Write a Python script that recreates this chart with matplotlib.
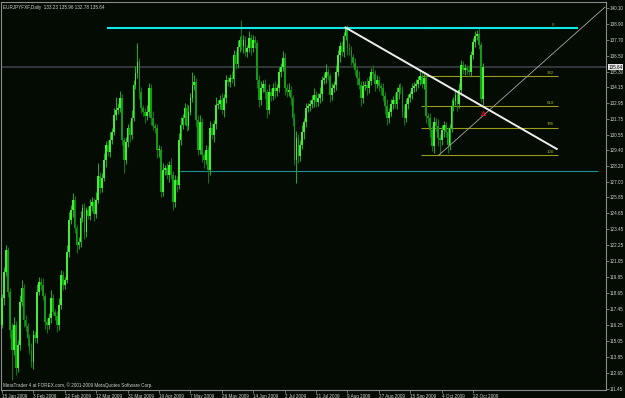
import numpy as np
import matplotlib
matplotlib.use("Agg")
import matplotlib.pyplot as plt
from matplotlib.transforms import blended_transform_factory

# EURJPY daily closes, 15 Jan 2009 .. 28 Oct 2009
first_open = 116.26
closes = [
    118.29, 120.25, 121.90, 118.74, 115.88, 114.38, 116.26, 113.03, 114.76, 117.99,
    119.04, 116.64, 116.18, 115.28, 114.38, 113.48, 115.51, 115.28, 118.74, 119.49,
    119.27, 118.44, 116.49, 116.26, 116.79, 118.29, 117.24, 116.94, 116.26, 117.76,
    120.02, 119.27, 119.64, 121.75, 124.16, 124.91, 125.66, 123.55, 122.28, 122.50,
    124.31, 125.06, 123.25, 124.91, 124.46, 125.21, 125.51, 124.61, 125.66, 127.46,
    126.56, 127.31, 128.67, 129.80, 129.27, 130.17, 130.77, 132.05, 132.43, 132.58,
    133.33, 130.17, 128.67, 130.02, 131.07, 130.55, 131.83, 134.31, 135.21, 136.04,
    133.78, 132.58, 132.28, 131.98, 132.28, 134.08, 131.83, 131.22, 131.07, 129.42,
    129.42, 126.26, 127.92, 128.07, 127.54, 128.29, 127.54, 125.51, 127.16, 126.79,
    130.17, 131.30, 131.83, 132.58, 131.22, 132.28, 133.33, 134.31, 134.53, 131.68,
    129.42, 131.53, 129.04, 128.67, 129.42, 127.92, 131.07, 130.55, 131.38, 132.80,
    132.88, 133.18, 132.43, 133.33, 134.68, 134.53, 134.83, 134.76, 136.56, 135.89,
    137.17, 137.69, 137.24, 137.69, 136.79, 137.09, 137.84, 137.09, 137.69, 137.47,
    134.68, 133.18, 134.08, 134.38, 133.78, 132.43, 133.78, 133.48, 134.08, 133.86,
    134.08, 135.29, 135.66, 136.34, 134.08, 133.78, 133.93, 133.33, 131.83, 128.67,
    130.32, 128.97, 129.80, 130.77, 131.53, 132.58, 132.73, 132.88, 133.18, 133.56,
    133.03, 133.33, 133.63, 134.68, 134.83, 135.29, 134.98, 133.56, 134.08, 134.31,
    135.29, 136.56, 137.24, 136.79, 137.99, 138.52, 137.09, 136.94, 136.41, 135.96,
    135.44, 134.83, 134.31, 133.33, 134.23, 134.31, 134.08, 134.61, 135.29, 135.14,
    134.38, 134.68, 134.23, 134.08, 133.48, 132.73, 131.83, 132.28, 132.88, 133.18,
    132.88, 133.78, 134.08, 133.93, 132.28, 131.83, 132.88, 133.33, 133.63, 134.08,
    134.23, 134.38, 134.68, 134.98, 134.38, 134.83, 131.98, 131.83, 130.92, 129.72,
    131.53, 131.22, 130.32, 130.17, 130.92, 131.30, 130.77, 129.80, 131.07, 132.73,
    133.10, 133.56, 132.88, 133.93, 135.81, 135.44, 135.59, 135.44, 135.29, 136.56,
    137.54, 137.99, 138.14, 137.32, 133.23, 135.64,
]
upper_wick = [
    0.3, 0.4, 0.4, 0.2, 0.3, 0.5, 0.6, 0.3, 0.4, 0.5,
    0.6, 0.3, 0.4, 0.2, 0.3, 0.5, 0.4, 0.3, 0.6, 0.4,
    0.3, 0.5, 0.2, 0.3, 0.4, 0.6, 0.3, 0.2, 0.4, 0.5,
    0.4, 0.3, 0.2, 0.5, 0.6, 0.4, 0.5, 0.3, 0.2, 0.4,
    0.5, 0.3, 0.4, 0.2, 0.3, 0.5, 0.4, 0.3, 0.6, 1.0,
    0.3, 0.4, 0.5, 0.3, 0.4, 0.6, 0.3, 0.5, 1.0, 0.4,
    0.5, 0.3, 0.2, 0.4, 0.3, 0.5, 0.6, 0.4, 0.5, 1.4,
    0.3, 0.4, 0.2, 0.3, 0.5, 0.4, 0.3, 0.5, 0.2, 0.3,
    0.4, 0.3, 0.5, 0.2, 0.4, 0.3, 0.5, 0.3, 0.4, 0.3,
    0.5, 0.6, 0.3, 0.4, 0.3, 0.5, 0.4, 1.0, 0.5, 0.3,
    0.4, 0.5, 0.3, 0.2, 0.4, 0.3, 0.5, 0.4, 0.3, 0.6,
    0.3, 0.4, 0.5, 0.3, 0.4, 0.2, 0.3, 0.5, 0.4, 0.3,
    0.5, 0.3, 1.5, 0.4, 0.3, 0.2, 0.5, 0.3, 0.4, 0.3,
    0.2, 0.4, 0.5, 0.3, 0.4, 0.2, 0.6, 0.3, 0.4, 0.5,
    0.3, 0.4, 0.3, 0.5, 0.4, 0.3, 0.5, 0.3, 0.2, 0.4,
    0.5, 0.3, 0.4, 0.5, 0.3, 0.4, 0.2, 0.3, 0.4, 0.5,
    0.3, 0.4, 0.5, 0.3, 0.4, 0.6, 0.3, 0.2, 0.4, 0.3,
    0.5, 0.4, 0.3, 0.4, 0.3, 0.11, 0.3, 0.4, 0.3, 0.2,
    0.4, 0.3, 0.5, 0.3, 0.4, 0.3, 0.5, 0.4, 0.3, 0.5,
    0.3, 0.4, 0.3, 0.2, 0.4, 0.3, 0.5, 0.3, 0.4, 0.3,
    0.5, 0.4, 0.3, 0.4, 0.3, 0.5, 0.4, 0.3, 0.2, 0.4,
    0.3, 0.4, 0.3, 0.5, 0.3, 0.4, 0.3, 0.2, 0.4, 0.3,
    0.4, 0.3, 0.5, 0.3, 0.4, 0.3, 0.2, 0.4, 0.3, 0.5,
    0.3, 0.4, 0.3, 0.5, 0.4, 0.3, 0.3, 0.2, 0.4, 0.3,
    0.3, 0.4, 0.3, 0.46, 0.2, 0.32,
]
lower_wick = [
    0.2, 0.5, 0.3, 0.4, 0.6, 2.25, 0.4, 0.5, 0.3, 0.4,
    0.3, 0.5, 0.4, 0.6, 0.3, 0.4, 0.5, 0.3, 0.4, 0.2,
    0.4, 0.3, 0.5, 0.6, 0.3, 0.4, 0.2, 0.3, 0.5, 0.4,
    0.3, 0.4, 0.3, 0.2, 0.4, 0.3, 0.5, 0.4, 0.6, 0.3,
    0.4, 0.3, 0.5, 0.4, 0.2, 0.3, 0.4, 0.5, 0.3, 0.2,
    0.4, 0.3, 0.2, 0.5, 0.3, 0.4, 0.3, 0.2, 0.4, 0.3,
    0.3, 0.4, 1.0, 0.3, 0.4, 0.5, 0.3, 0.2, 0.3, 0.4,
    0.5, 0.4, 0.3, 0.5, 0.3, 0.4, 0.5, 0.3, 0.4, 0.6,
    0.5, 0.4, 0.3, 0.4, 0.3, 0.5, 0.3, 0.6, 0.4, 0.5,
    0.3, 0.4, 0.3, 0.5, 0.4, 0.3, 0.2, 0.3, 0.4, 0.5,
    0.4, 0.3, 0.5, 0.6, 0.3, 1.0, 0.4, 0.3, 0.5, 0.4,
    0.3, 0.4, 0.3, 0.5, 0.4, 0.3, 0.4, 0.3, 0.5, 0.4,
    0.3, 0.4, 0.3, 0.5, 0.3, 0.4, 0.3, 0.5, 0.3, 0.4,
    0.6, 0.5, 0.4, 0.3, 0.5, 0.6, 0.3, 0.4, 0.3, 0.5,
    0.4, 0.3, 0.4, 0.3, 0.5, 0.4, 0.3, 0.5, 0.6, 0.4,
    1.7, 0.5, 0.4, 0.3, 0.5, 0.4, 0.3, 0.4, 0.3, 0.5,
    0.4, 0.3, 0.4, 0.5, 0.3, 0.4, 0.3, 0.5, 0.4, 0.3,
    0.4, 0.3, 0.5, 0.3, 0.4, 0.3, 0.5, 0.4, 0.6, 0.3,
    0.4, 0.5, 0.3, 0.6, 0.4, 0.3, 0.5, 0.4, 0.3, 0.4,
    0.5, 0.3, 0.4, 0.5, 0.4, 0.6, 0.5, 0.4, 0.3, 0.4,
    0.3, 0.4, 0.5, 0.3, 0.4, 0.5, 0.3, 0.4, 0.3, 0.4,
    0.3, 0.4, 0.3, 0.4, 0.3, 0.4, 0.5, 0.6, 0.5, 0.4,
    0.5, 0.4, 0.6, 1.12, 0.4, 0.5, 0.4, 0.6, 0.4, 0.3,
    0.4, 0.3, 0.5, 0.3, 0.4, 0.3, 0.4, 0.3, 0.4, 0.3,
    0.3, 0.4, 0.3, 0.3, 0.2, 0.45,
]

date_bars = list(range(0, 241, 16))
date_labels = ["15 Jan 2009", "3 Feb 2009", "22 Feb 2009", "12 Mar 2009", "31 Mar 2009",
               "19 Apr 2009", "7 May 2009", "26 May 2009", "14 Jun 2009", "2 Jul 2009",
               "21 Jul 2009", "9 Aug 2009", "27 Aug 2009", "15 Sep 2009", "4 Oct 2009",
               "22 Oct 2009"]
price_labels = ["140.10", "138.90", "137.70", "136.50", "135.30", "134.15", "132.95",
                "131.75", "130.55", "129.40", "128.20", "127.00", "125.85", "124.65",
                "123.45", "122.25", "121.05", "119.85", "118.65", "117.45", "116.25",
                "115.05", "113.85", "112.65", "111.45"]

# drawn objects
bid = 135.64
resistance, res_from, res_to = 138.58, 53.5, 293.4
support, sup_from, sup_to = 127.84, 90.7, 303.6
trend = ([175.0, 282.6], [138.63, 129.50])
diag = ([222.6, 307.2], [129.04, 140.17])
fib_high, fib_low, fib_from, fib_to = 138.60, 129.05, 213.5, 283.3
fib_levels = [0.0, 0.382, 0.618, 0.786, 1.0]
fib_names = ["0", "382", "618", "786", "100"]
arrow_bar, arrow_price = 245.0, 132.20

bg = "#030b03"
font = "Liberation Sans"
fig = plt.figure(figsize=(6.25, 3.98), dpi=100, facecolor=bg)
ax = fig.add_axes([1 / 625, 8 / 398, 605 / 625, 388 / 398], facecolor=bg)

closes = np.array(closes)
opens = np.r_[first_open, closes[:-1]]
highs = np.maximum(opens, closes) + np.array(upper_wick)
lows = np.minimum(opens, closes) - np.array(lower_wick)
x = np.arange(len(closes))
up = closes >= opens

ax.vlines(x, lows, highs, colors=np.where(up, "#1fb01f", "#0b7d0b"), lw=0.7, zorder=3)
body = np.maximum(np.abs(closes - opens), 0.08)
ax.bar(x, body, bottom=np.minimum(opens, closes), width=0.9,
       color=np.where(up, "#44ee33", "#139a13"), edgecolor="none", zorder=4)

ax.axhline(bid, color="#3a3a3e", lw=1.3, zorder=1)
ax.hlines(resistance, res_from, res_to, color="#12e6e6", lw=1.5, zorder=5)
ax.hlines(support, sup_from, sup_to, color="#1f8f8f", lw=0.8, zorder=2)
ax.plot(*diag, color="#a8a8a8", lw=0.6, zorder=5)
for lev, name in zip(fib_levels, fib_names):
    p = fib_high - lev * (fib_high - fib_low)
    ax.hlines(p, fib_from, fib_to, color="#9c9c1c", lw=0.8, zorder=2)
    ax.text(fib_to - 2, p + 0.1, name, color="#a8a820", fontsize=3.2,
            ha="right", va="bottom", family=font)
ax.plot(*trend, color="#eeeeee", lw=1.4, zorder=6)
ax.plot(arrow_bar, arrow_price, marker="^", ms=3, mfc="none", mec="#e01010",
        mew=0.7, zorder=7)

ax.set_xlim(-0.5, -0.5 + 605 / 1.963)
ax.set_ylim(111.37, 140.55)

gray = "#8a8a8a"
for s in ax.spines.values():
    s.set_color(gray)
    s.set_linewidth(0.8)
ax.yaxis.tick_right()
ax.set_yticks([float(v) for v in price_labels])
ax.set_yticklabels(price_labels)
ax.set_xticks(date_bars)
ax.set_xticklabels(date_labels, ha="left")
ax.tick_params(axis="both", direction="out", length=2, width=0.6, color=gray,
               labelcolor="#d0d0d0", labelsize=3.3, pad=1)
for lbl in ax.get_xticklabels() + ax.get_yticklabels():
    lbl.set_family(font)

tr = blended_transform_factory(ax.transAxes, ax.transData)
ax.text(1.004, bid, "135.64", transform=tr, fontsize=3.3, color="#000000",
        va="center", ha="left", family=font, zorder=10,
        bbox=dict(boxstyle="square,pad=0.15", fc="#e6e6e6", ec="none"))

ax.text(0.004, 0.992, "EURJPYFXF,Daily  133.23 135.96 132.78 135.64",
        transform=ax.transAxes, fontsize=3.3, color="#d0d0d0", va="top", ha="left",
        family=font)
ax.text(0.004, 0.006, "MetaTrader 4 at FOREX.com, \u00a9 2001-2009 MetaQuotes Software Corp.",
        transform=ax.transAxes, fontsize=3.3, color="#d0d0d0", va="bottom", ha="left",
        family=font)

fig.savefig("out.png", dpi=100, facecolor=bg)
